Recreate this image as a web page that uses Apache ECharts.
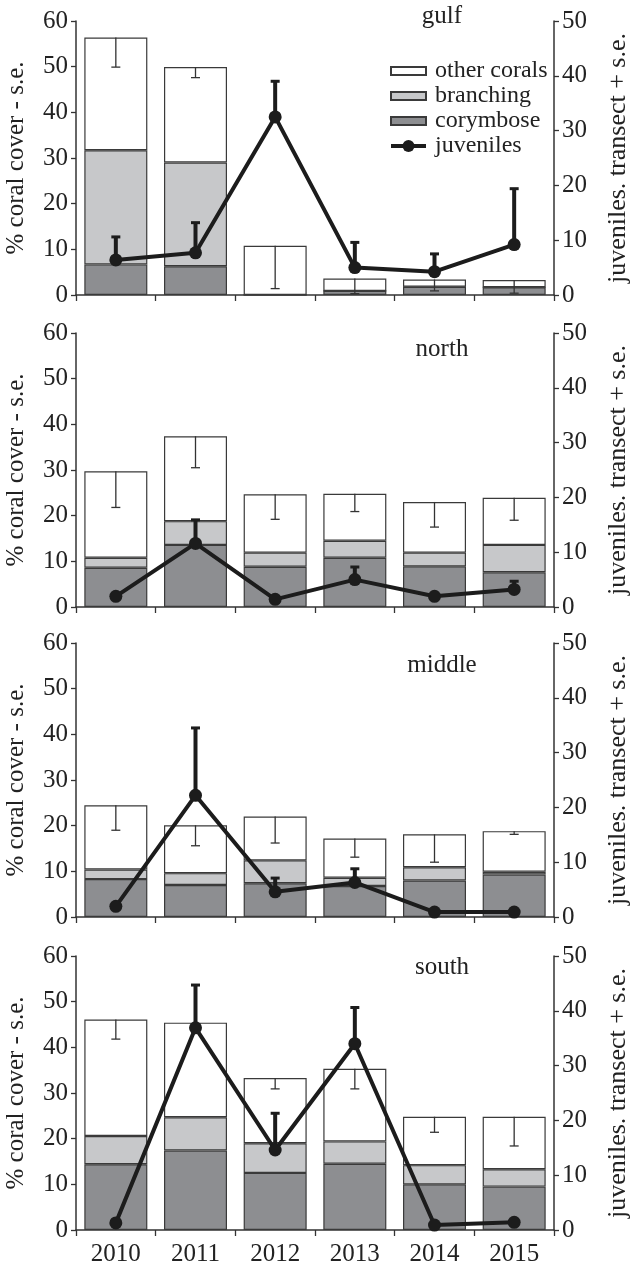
<!DOCTYPE html>
<html>
<head>
<meta charset="utf-8">
<script src="https://cdn.jsdelivr.net/npm/echarts@6/dist/echarts.min.js"></script>
<style>
html,body{margin:0;padding:0;background:#fff;}
#c{width:632px;height:1269px;}
#probe{position:absolute;left:-999px;top:0;font-family:"Liberation Serif","Times New Roman",serif;font-size:24px;}
</style>
</head>
<body>
<div id="probe">2010 gulf</div>
<div id="c"></div>
<script>
// ---- categories / labels ----
const years = ['2010', '2011', '2012', '2013', '2014', '2015'];
const regions = ['gulf', 'north', 'middle', 'south'];
const leftTicks = [0, 10, 20, 30, 40, 50, 60];
const rightTicks = [0, 10, 20, 30, 40, 50];

// ---- % coral cover segments (stacked) ----
const gulfCorymbose   = [6.7, 6.3, 0, 0.9, 1.8, 1.7];
const gulfBranching   = [25.0, 22.7, 0, 0, 0, 0];
const gulfOther       = [24.7, 20.9, 10.8, 2.7, 1.6, 1.6];
const gulfCoverSE     = [6.5, 2.3, 9.4, 3.3, 2.5, 2.9];
const gulfJuveniles   = [6.4, 7.7, 32.5, 5.0, 4.25, 9.2];
const gulfJuvSE       = [4.2, 5.5, 6.5, 4.6, 3.25, 10.2];

const northCorymbose  = [8.6, 13.6, 8.8, 10.8, 8.9, 7.6];
const northBranching  = [2.2, 5.2, 3.1, 3.7, 3.0, 6.0];
const northOther      = [18.9, 18.6, 12.8, 10.3, 11.1, 10.3];
const northCoverSE    = [7.9, 6.9, 5.5, 3.9, 5.5, 4.9];
const northJuveniles  = [1.95, 11.6, 1.4, 5.0, 1.95, 3.2];
const northJuvSE      = [0, 4.3, 0, 2.3, 0, 1.5];

const middleCorymbose = [8.3, 7.0, 7.4, 6.8, 8.0, 9.3];
const middleBranching = [2.1, 2.6, 5.0, 1.8, 2.9, 0.6];
const middleOther     = [14.05, 10.5, 9.6, 8.6, 7.2, 8.9];
const middleCoverSE   = [5.45, 4.5, 5.8, 4.1, 6.1, 0.7];
const middleJuveniles = [1.95, 22.2, 4.6, 6.3, 0.9, 0.9];
const middleJuvSE     = [0, 12.3, 2.5, 2.5, 0, 0];

const southCorymbose  = [14.4, 17.4, 12.5, 14.5, 10.0, 9.5];
const southBranching  = [6.2, 7.3, 6.5, 4.9, 4.2, 3.8];
const southOther      = [25.5, 20.7, 14.3, 15.9, 10.6, 11.5];
const southCoverSE    = [4.3, 1.5, 2.4, 4.4, 3.4, 6.4];
const southJuveniles  = [1.3, 36.9, 14.6, 34.0, 0.9, 1.4];
const southJuvSE      = [0, 7.8, 6.7, 6.6, 0, 0];

const panels = [
  {name: regions[0], cory: gulfCorymbose, bran: gulfBranching, other: gulfOther, cse: gulfCoverSE, juv: gulfJuveniles, jse: gulfJuvSE},
  {name: regions[1], cory: northCorymbose, bran: northBranching, other: northOther, cse: northCoverSE, juv: northJuveniles, jse: northJuvSE},
  {name: regions[2], cory: middleCorymbose, bran: middleBranching, other: middleOther, cse: middleCoverSE, juv: middleJuveniles, jse: middleJuvSE},
  {name: regions[3], cory: southCorymbose, bran: southBranching, other: southOther, cse: southCoverSE, juv: southJuveniles, jse: southJuvSE}
];

// ---- layout ----
const FONT = '"Liberation Serif", "Times New Roman", Times, serif';
const gridTops = [21, 333, 643, 956];
const gridH = 274;
const gridLeft = 76, gridRight = 78;
const axisColor = '#333';

function coverErr(params, api) {
  const se = api.value(2);
  if (!se) return null;
  const p1 = api.coord([api.value(0), api.value(1)]);
  const p2 = api.coord([api.value(0), api.value(1) - se]);
  const st = {stroke: '#333', lineWidth: 1.3};
  return {type: 'group', children: [
    {type: 'line', shape: {x1: p1[0], y1: p1[1], x2: p2[0], y2: p2[1]}, style: st},
    {type: 'line', shape: {x1: p2[0] - 4.5, y1: p2[1], x2: p2[0] + 4.5, y2: p2[1]}, style: st}
  ]};
}
function juvErr(params, api) {
  const se = api.value(2);
  if (!se) return null;
  const p1 = api.coord([api.value(0), api.value(1)]);
  const p2 = api.coord([api.value(0), api.value(1) + se]);
  const st = {stroke: '#1c1c1c', lineWidth: 4};
  return {type: 'group', children: [
    {type: 'line', shape: {x1: p1[0], y1: p1[1], x2: p2[0], y2: p2[1]}, style: st},
    {type: 'line', shape: {x1: p2[0] - 4.5, y1: p2[1], x2: p2[0] + 4.5, y2: p2[1]}, style: {stroke: '#1c1c1c', lineWidth: 3}}
  ]};
}

function draw() {
  const grids = [], xAxes = [], yAxes = [], series = [], graphics = [];
  panels.forEach((p, i) => {
    const last = i === panels.length - 1;
    grids.push({left: gridLeft, right: gridRight, top: gridTops[i], height: gridH});
    xAxes.push({
      type: 'category', gridIndex: i, data: years,
      axisLine: {lineStyle: {color: axisColor, width: 1.5}},
      axisTick: {show: true, length: 6, inside: false, lineStyle: {color: axisColor, width: 1.3}},
      axisLabel: {show: last, fontFamily: FONT, fontSize: 25, color: '#222', margin: 12}
    });
    yAxes.push({
      type: 'value', gridIndex: i, position: 'left', min: leftTicks[0], max: leftTicks[leftTicks.length - 1], interval: 10,
      splitLine: {show: false},
      axisLine: {show: true, lineStyle: {color: axisColor, width: 1.5}},
      axisTick: {show: true, length: 5, lineStyle: {color: axisColor, width: 1.3}},
      axisLabel: {fontFamily: FONT, fontSize: 25, color: '#222', margin: 8}
    });
    yAxes.push({
      type: 'value', gridIndex: i, position: 'right', min: rightTicks[0], max: rightTicks[rightTicks.length - 1], interval: 10,
      splitLine: {show: false},
      axisLine: {show: true, lineStyle: {color: axisColor, width: 1.5}},
      axisTick: {show: true, length: 5, lineStyle: {color: axisColor, width: 1.3}},
      axisLabel: {fontFamily: FONT, fontSize: 25, color: '#222', margin: 8}
    });
    const yl = 2 * i, yr = 2 * i + 1;
    const common = {type: 'bar', xAxisIndex: i, yAxisIndex: yl, stack: 'cover' + i, barWidth: 63, z: 2};
    series.push(Object.assign({}, common, {name: 'corymbose', data: p.cory,
      itemStyle: {color: '#8d8e91', borderColor: '#3a3a3a', borderWidth: 1.2}}));
    series.push(Object.assign({}, common, {name: 'branching', data: p.bran,
      itemStyle: {color: '#c7c8ca', borderColor: '#3a3a3a', borderWidth: 1.2}}));
    series.push(Object.assign({}, common, {name: 'other corals', data: p.other,
      itemStyle: {color: '#ffffff', borderColor: '#3a3a3a', borderWidth: 1.2}}));
    series.push({type: 'custom', name: 'cover se', xAxisIndex: i, yAxisIndex: yl, z: 3,
      renderItem: coverErr,
      data: years.map((y, k) => [k, p.cory[k] + p.bran[k] + p.other[k], p.cse[k]])});
    series.push({type: 'custom', name: 'juv se', xAxisIndex: i, yAxisIndex: yr, z: 4,
      renderItem: juvErr,
      data: years.map((y, k) => [k, p.juv[k], p.jse[k]])});
    series.push({type: 'line', name: 'juveniles', xAxisIndex: i, yAxisIndex: yr, data: p.juv, z: 5,
      symbol: 'circle', symbolSize: 13,
      lineStyle: {color: '#1c1c1c', width: 4},
      itemStyle: {color: '#1c1c1c'}});

    const cy = gridTops[i] + gridH / 2;
    graphics.push({type: 'text', x: 16, y: cy, rotation: Math.PI / 2,
      style: {text: '% coral cover - s.e.', font: '25px ' + FONT, fill: '#222', align: 'center', verticalAlign: 'middle'}});
    graphics.push({type: 'text', x: 618, y: cy, rotation: Math.PI / 2,
      style: {text: 'juveniles. transect + s.e.', font: '26px ' + FONT, fill: '#222', align: 'center', verticalAlign: 'middle'}});
    const ty = [16, 349, 665, 967][i];
    graphics.push({type: 'text', x: 442, y: ty,
      style: {text: p.name, font: '25px ' + FONT, fill: '#222', align: 'center', verticalAlign: 'middle'}});
  });

  const barIcon = 'path://M0,0H35V8H0Z';
  const chart = echarts.init(document.getElementById('c'), null, {renderer: 'canvas'});
  chart.setOption({
    backgroundColor: '#fff',
    animation: false,
    grid: grids,
    xAxis: xAxes,
    yAxis: yAxes,
    legend: {
      orient: 'vertical', left: 389, top: 59, padding: 0, itemWidth: 35, itemHeight: 15, itemGap: 1,
      data: [
        {name: 'other corals', icon: barIcon},
        {name: 'branching', icon: barIcon},
        {name: 'corymbose', icon: barIcon},
        {name: 'juveniles', lineStyle: {width: 4}}
      ],
      textStyle: {fontFamily: FONT, fontSize: 24, color: '#222', padding: [0, 0, 0, 4]},
      selectedMode: false
    },
    graphic: graphics,
    series: series
  });
}

if (document.fonts && document.fonts.load) {
  Promise.all([
    document.fonts.load('25px "Liberation Serif"'),
    document.fonts.load('25px "Times New Roman"')
  ]).then(draw, draw);
} else {
  draw();
}
</script>
</body>
</html>
